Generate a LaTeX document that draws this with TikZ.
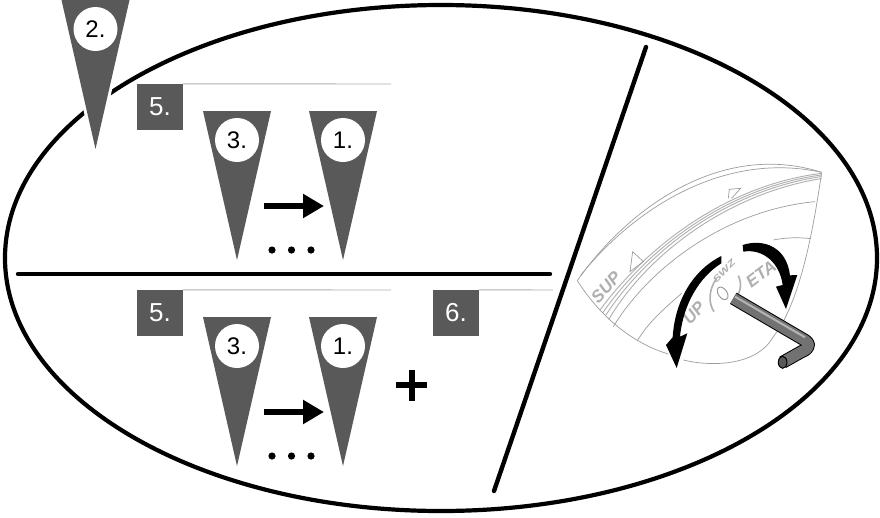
\documentclass[tikz,border=0pt]{standalone}
\usepackage{fontspec}
\setmainfont{Liberation Sans}
\usetikzlibrary{arrows.meta}
\definecolor{flagc}{RGB}{89,89,89}
\definecolor{thin}{RGB}{175,175,175}
\tikzset{
  flagshape/.style={fill=flagc,draw=none},
  badge/.style={circle,fill=white,draw=none,minimum size=44pt,inner sep=0pt,font=\fontsize{24}{26}\selectfont},
  numbox/.style={fill=flagc,text=white,minimum size=46pt,inner sep=0pt,font=\fontsize{26}{28}\selectfont},
  rule/.style={draw=thin,line width=0.9pt},
  heavy/.style={draw=black,line width=4.4pt,line cap=round},
  stepflow/.style={line width=6pt,-{Triangle[length=21pt,width=23pt]},shorten >=0pt},
  sketch/.style={draw=thin!90!black,line width=0.7pt},
  sketchb/.style={draw=thin,line width=0.9pt},
  lettering/.style={text=thin,font=\bfseries\itshape\fontsize{17}{19}\selectfont,inner sep=0pt},
}
\newcommand{\flagat}[4]{% name, x, ytop, label
  \fill[flagshape] (#2-34,#3) -- (#2+34,#3) -- (#2,#3+149) -- cycle;
  \node[badge] (#1) at (#2,#3+29) {#4};
}
\newcommand{\dotsat}[2]{%
  \fill (#1-19.5,#2) circle (3.6);
  \fill (#1,#2) circle (3.6);
  \fill (#1+19.5,#2) circle (3.6);
}
\begin{document}
\begin{tikzpicture}[x=1pt,y=-1pt]
\useasboundingbox (0,0) rectangle (880,517);
\fill[white] (0,0) rectangle (880,517);
% main ellipse
\draw[black,line width=4.2pt] (441,258) ellipse [x radius=436,y radius=253];
% flag 2 with white halo over the ellipse
\fill[white,draw=white,line width=7pt,line join=miter] (62,-5) -- (129,-5) -- (95.5,149) -- cycle;
\flagat{ftwo}{95.5}{0}{2.}
% dividers
\coordinate (ha) at (18,274);
\coordinate (hb) at (550,274);
\draw[heavy] (ha) -- (hb);
\coordinate (da) at (646,47);
\coordinate (db) at (494,491);
\draw[heavy] (da) -- (db);
% upper group
\node[numbox] (fivea) at (160,107) {5.};
\coordinate (fiveaend) at (391,84);
\draw[rule] (fivea.north east) -- (fiveaend);
\flagat{fthreea}{237}{111}{3.}
\flagat{fonea}{343}{111}{1.}
\coordinate (arra) at (264,206);
\coordinate (arrb) at (324,206);
\draw[stepflow] (arra) -- (arrb);
\dotsat{291.5}{250}
% lower group
\node[numbox] (fiveb) at (160,313) {5.};
\coordinate (fivebend) at (391,290);
\draw[rule] (fiveb.north east) -- (fivebend);
\flagat{fthreeb}{237}{317}{3.}
\flagat{foneb}{343}{317}{1.}
\coordinate (arrc) at (264,412);
\coordinate (arrd) at (324,412);
\draw[stepflow] (arrc) -- (arrd);
\dotsat{291.5}{456}
\fill (396,382) rectangle (427,388);
\fill (408.5,369.5) rectangle (414.5,400.5);
\node[numbox] (six) at (456,313) {6.};
\coordinate (sixend) at (553,290);
\draw[rule] (six.north east) -- (sixend);
% adjuster sketch (zoom coordinates: 3 units per pixel)
\begin{scope}[shift={(560,130)},x=0.3333pt,y=-0.3333pt]
 \draw[sketch] (52,452) .. controls (200,240) and (480,30) .. (785,127);
 \draw[sketch] (52,452) .. controls (140,590) and (250,650) .. (325,672);
 \draw[sketch] (785,127) .. controls (760,300) and (720,520) .. (640,620);
 \draw[sketch] (370,690) .. controls (450,710) and (590,710) .. (640,620);
 \draw[sketch] (62,436) .. controls (210,250) and (480,60) .. (785,127);
 \foreach \o in {0,8,16,26}{
  \draw[sketchb] (120+\o,540+\o*1.1) .. controls (260,350+\o) and (500,165+\o) .. (785,130+\o*.6);
 }
 \draw[sketch] (160,590) .. controls (270,410) and (500,240) .. (765,215);
 \draw[sketch] (232,632) .. controls (270,570) and (320,530) .. (365,490);
 \draw[sketch] (640,330) .. controls (680,322) and (720,322) .. (752,326);
 \draw[sketch] (210,425) -- (218,365) -- (250,395) -- cycle;
 \draw[sketch] (505,205) -- (508,178) -- (542,175) -- (515,205);
 \node[lettering,rotate=47] (sup) at (138,472) {SUP};
 \node[lettering,rotate=48] (up) at (402,548) {UP};
 \node[lettering,rotate=37] (eta) at (603,432) {ETA};
 \node[lettering,rotate=45,xscale=1.4,font=\bfseries\itshape\fontsize{9}{10}\selectfont] (swz) at (492,423) {SWZ};
 \draw[sketchb,line width=1.6pt] (470,445) .. controls (445,480) and (445,520) .. (462,545);
 \draw[sketchb,line width=1.6pt] (535,437) .. controls (548,465) and (540,490) .. (525,505);
 \draw[sketch,line width=1pt,rotate around={35:(488,490)}] (488,490) ellipse [x radius=13,y radius=21];
 % hex key
 \draw[black,line width=13pt,line join=round] (520,505) -- (725,625) .. controls (755,640) and (750,655) .. (725,665) -- (668,697);
 \draw[flagc!85!white,line width=11pt,line join=round] (520,505) -- (725,625) .. controls (755,640) and (750,655) .. (725,665) -- (668,697);
 \draw[flagc!45!white,line width=2pt] (525,500) -- (735,622);
 \draw[black,line width=1pt,fill=flagc] (668,697) ellipse [x radius=13,y radius=18];
 % turn arrows
 \fill (484,378) .. controls (400,420) and (345,510) .. (338,622)
   -- (318,645) -- (350,714) -- (382,610) -- (360,620)
   .. controls (370,520) and (420,440) .. (484,400) -- cycle;
 \fill (548,345) .. controls (610,325) and (680,350) .. (690,436)
   -- (712,435) -- (678,537) -- (648,470) -- (668,465)
   .. controls (660,400) and (610,355) .. (550,365) -- cycle;
\end{scope}
\end{tikzpicture}
\end{document}
